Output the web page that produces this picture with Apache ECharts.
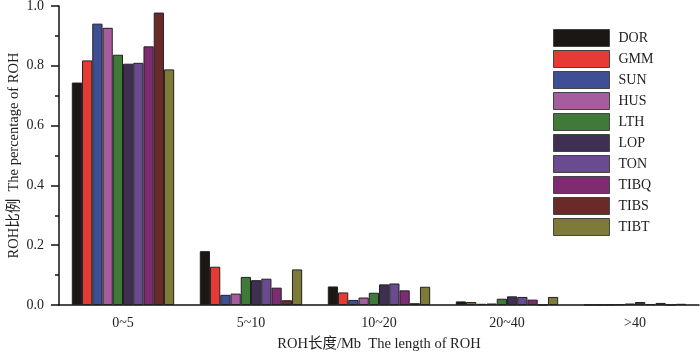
<!DOCTYPE html>
<html>
<head>
<meta charset="utf-8">
<script src="https://cdn.jsdelivr.net/npm/echarts@6/dist/echarts.min.js"></script>
<style>
  html, body { margin: 0; padding: 0; background: #fff; }
  #chart { width: 700px; height: 357px; }
</style>
</head>
<body>
<div id="chart"></div>
<script>
// ROH 长度区间
const categories = ["0~5", "5~10", "10~20", "20~40", ">40"];
const breeds = ["DOR", "GMM", "SUN", "HUS", "LTH", "LOP", "TON", "TIBQ", "TIBS", "TIBT"];
const colors = ["#1a1714", "#e83a35", "#3f4f96", "#a65d9e", "#3f7a3a", "#3f2f52", "#6a4b8f", "#7d2c72", "#6b2a2a", "#807a38"];

// 每个品种在各区间的比例
const DOR = [0.744, 0.180, 0.062, 0.012, 0.001];
const GMM = [0.818, 0.128, 0.042, 0.010, 0.001];
const SUN = [0.941, 0.034, 0.017, 0.004, 0.001];
const HUS = [0.927, 0.038, 0.025, 0.005, 0.002];
const LTH = [0.837, 0.094, 0.041, 0.021, 0.005];
const LOP = [0.807, 0.083, 0.069, 0.029, 0.010];
const TON = [0.810, 0.088, 0.072, 0.027, 0.003];
const TIBQ = [0.865, 0.058, 0.049, 0.018, 0.007];
const TIBS = [0.978, 0.016, 0.006, 0.001, 0.001];
const TIBT = [0.788, 0.119, 0.061, 0.027, 0.004];
const values = [DOR, GMM, SUN, HUS, LTH, LOP, TON, TIBQ, TIBS, TIBT];

const yTicks = [0, 0.2, 0.4, 0.6, 0.8, 1.0];

const font = '"Liberation Serif", "Noto Sans CJK SC", serif';

const myChart = echarts.init(document.getElementById("chart"));

myChart.setOption({
  animation: false,
  grid: { left: 59, right: 1, top: 6, bottom: 52, outerBoundsMode: "none", containLabel: false },
  legend: {
    orient: "vertical",
    left: 548,
    top: 24,
    itemWidth: 56,
    itemHeight: 17,
    itemGap: 3,
    icon: "rect",
    data: breeds,
    itemStyle: { borderColor: "#444", borderWidth: 1 },
    textStyle: { fontFamily: font, fontSize: 14, color: "#222", padding: [0, 0, 0, 4], lineHeight: 17 },
  },
  xAxis: [
    {
      type: "category",
      data: categories,
      name: "ROH长度/Mb  The length of ROH",
      nameLocation: "middle",
      nameGap: 32,
      nameTextStyle: { fontFamily: font, fontSize: 14.5, color: "#222" },
      axisLine: { lineStyle: { color: "#111", width: 1.5 } },
      axisTick: { alignWithLabel: true, length: 7, lineStyle: { color: "#111", width: 1.5 } },
      axisLabel: { fontFamily: font, fontSize: 14, color: "#222", margin: 11 },
    },
    {
      type: "category",
      data: categories,
      position: "bottom",
      axisLine: { show: false },
      axisTick: { length: 3, lineStyle: { color: "#111", width: 1.5 } },
      axisLabel: { show: false },
    },
  ],
  yAxis: {
    type: "value",
    min: 0,
    max: 1.0,
    interval: 0.2,
    name: "ROH比例  The percentage of ROH",
    nameLocation: "middle",
    nameGap: 38,
    nameMoveOverlap: false,
    nameTextStyle: { fontFamily: font, fontSize: 14.5, color: "#222" },
    axisLine: { show: true, lineStyle: { color: "#111", width: 1.5 } },
    axisTick: { show: true, length: 8, lineStyle: { color: "#111", width: 1.5 } },
    minorTick: { show: true, splitNumber: 2, length: 4, lineStyle: { color: "#111", width: 1.5 } },
    splitLine: { show: false },
    axisLabel: {
      fontFamily: font,
      fontSize: 14,
      color: "#222",
      margin: 15,
      formatter: (v) => (yTicks.some((t) => Math.abs(t - v) < 1e-9) ? v.toFixed(1) : ""),
    },
  },
  series: breeds.map((name, i) => ({
    name: name,
    type: "bar",
    xAxisIndex: 0,
    data: values[i],
    barGap: "0%",
    barCategoryGap: "20%",
    itemStyle: { color: colors[i], borderColor: "#222", borderWidth: 1 },
  })),
});
</script>
</body>
</html>
